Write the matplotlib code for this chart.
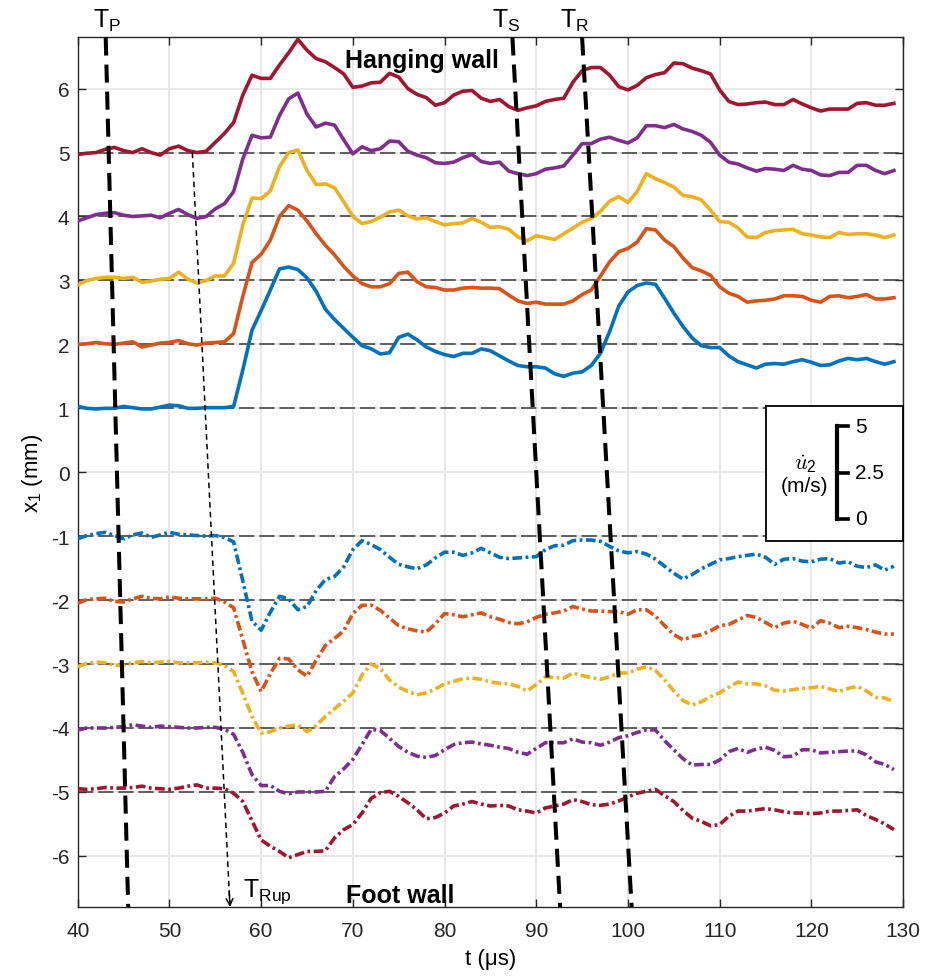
import numpy as np
import matplotlib
matplotlib.use('Agg')
import matplotlib.pyplot as plt
from matplotlib.patches import Rectangle

plt.rcParams['font.family'] = ['Liberation Sans', 'DejaVu Sans']
plt.rcParams['mathtext.default'] = 'regular'
plt.rcParams['axes.unicode_minus'] = False
plt.rcParams['lines.scale_dashes'] = False

# time axis (us)
t = np.arange(40, 130)

# hanging wall records (solid), offset to x1 = 1..5 mm
hw1 = [1.03, 1.00, 0.99, 1.00, 1.00, 1.03, 1.01, 0.99, 0.99, 1.02,
       1.05, 1.04, 1.00, 1.00, 1.01, 1.01, 1.01, 1.03, 1.60, 2.22,
       2.53, 2.85, 3.18, 3.21, 3.17, 3.04, 2.83, 2.55, 2.39, 2.25,
       2.11, 1.98, 1.93, 1.85, 1.87, 2.11, 2.16, 2.07, 1.96, 1.89,
       1.84, 1.81, 1.86, 1.86, 1.93, 1.90, 1.82, 1.74, 1.67, 1.65,
       1.65, 1.63, 1.54, 1.50, 1.55, 1.57, 1.67, 1.86, 2.20, 2.60,
       2.82, 2.92, 2.96, 2.94, 2.72, 2.49, 2.28, 2.10, 1.98, 1.95,
       1.95, 1.82, 1.73, 1.68, 1.63, 1.69, 1.70, 1.69, 1.73, 1.76,
       1.72, 1.67, 1.68, 1.74, 1.78, 1.76, 1.78, 1.73, 1.69, 1.73]
hw2 = [2.00, 2.01, 2.03, 2.01, 2.00, 2.02, 2.04, 1.96, 1.99, 2.02,
       2.03, 2.06, 2.01, 1.99, 2.02, 2.03, 2.04, 2.17, 2.75, 3.28,
       3.41, 3.63, 4.00, 4.17, 4.10, 3.93, 3.73, 3.55, 3.40, 3.22,
       3.07, 2.95, 2.90, 2.90, 2.95, 3.11, 3.13, 2.98, 2.90, 2.89,
       2.85, 2.85, 2.88, 2.89, 2.88, 2.88, 2.87, 2.77, 2.68, 2.64,
       2.66, 2.63, 2.63, 2.63, 2.68, 2.78, 2.85, 3.07, 3.29, 3.45,
       3.50, 3.60, 3.81, 3.79, 3.63, 3.53, 3.35, 3.20, 3.15, 3.08,
       2.90, 2.80, 2.75, 2.66, 2.68, 2.69, 2.71, 2.76, 2.76, 2.75,
       2.69, 2.66, 2.75, 2.76, 2.73, 2.75, 2.78, 2.71, 2.71, 2.73]
hw3 = [2.93, 3.00, 3.03, 3.05, 3.05, 3.03, 3.05, 2.97, 2.99, 3.02,
       3.03, 3.13, 3.02, 2.96, 3.00, 3.07, 3.07, 3.27, 3.87, 4.29,
       4.28, 4.40, 4.78, 5.00, 5.04, 4.72, 4.50, 4.51, 4.45, 4.23,
       4.00, 3.89, 3.92, 3.99, 4.07, 4.10, 4.01, 3.96, 3.98, 3.92,
       3.87, 3.89, 3.90, 3.97, 3.91, 3.83, 3.84, 3.80, 3.68, 3.62,
       3.70, 3.67, 3.64, 3.73, 3.82, 3.91, 3.97, 4.08, 4.24, 4.31,
       4.22, 4.39, 4.67, 4.59, 4.53, 4.46, 4.33, 4.31, 4.26, 4.10,
       3.92, 3.91, 3.82, 3.68, 3.67, 3.75, 3.78, 3.79, 3.80, 3.73,
       3.71, 3.68, 3.67, 3.75, 3.72, 3.73, 3.73, 3.71, 3.67, 3.71]
hw4 = [3.93, 3.98, 4.03, 4.05, 4.06, 4.02, 4.00, 4.01, 4.02, 3.98,
       4.05, 4.11, 4.03, 3.97, 4.00, 4.12, 4.20, 4.39, 4.90, 5.27,
       5.23, 5.24, 5.58, 5.84, 5.93, 5.60, 5.40, 5.46, 5.43, 5.20,
       4.98, 5.09, 5.03, 5.06, 5.18, 5.17, 5.02, 4.96, 4.92, 4.84,
       4.83, 4.85, 4.92, 4.97, 4.86, 4.83, 4.85, 4.71, 4.67, 4.64,
       4.67, 4.74, 4.76, 4.79, 4.96, 5.14, 5.14, 5.21, 5.24, 5.19,
       5.15, 5.23, 5.42, 5.42, 5.39, 5.44, 5.37, 5.33, 5.27, 5.16,
       4.96, 4.85, 4.82, 4.76, 4.71, 4.75, 4.74, 4.72, 4.80, 4.74,
       4.72, 4.65, 4.64, 4.69, 4.69, 4.80, 4.80, 4.72, 4.67, 4.72]
hw5 = [4.97, 4.99, 5.00, 5.05, 5.08, 5.03, 5.00, 5.06, 5.00, 4.96,
       5.06, 5.10, 5.03, 5.00, 5.02, 5.16, 5.30, 5.47, 5.90, 6.21,
       6.16, 6.16, 6.37, 6.56, 6.77, 6.60, 6.47, 6.42, 6.33, 6.23,
       6.02, 6.04, 6.09, 6.10, 6.24, 6.18, 6.00, 5.91, 5.86, 5.74,
       5.78, 5.90, 5.96, 5.97, 5.85, 5.80, 5.83, 5.72, 5.66, 5.70,
       5.73, 5.80, 5.83, 5.85, 6.10, 6.28, 6.33, 6.33, 6.21, 6.03,
       5.98, 6.05, 6.17, 6.22, 6.25, 6.40, 6.39, 6.32, 6.28, 6.23,
       5.98, 5.80, 5.75, 5.76, 5.78, 5.79, 5.75, 5.75, 5.83, 5.76,
       5.70, 5.65, 5.68, 5.68, 5.68, 5.77, 5.78, 5.74, 5.74, 5.77]

# foot wall records (dash-dot), offset to x1 = -1..-5 mm
fw1 = [-1.04, -0.99, -0.96, -0.94, -0.99, -1.04, -0.98, -0.95, -1.02, -0.98,
       -0.94, -0.97, -0.98, -0.99, -1.00, -0.99, -1.02, -1.09, -1.70, -2.33,
       -2.47, -2.19, -1.94, -1.98, -2.15, -2.10, -1.85, -1.68, -1.63, -1.48,
       -1.21, -1.07, -1.13, -1.21, -1.33, -1.44, -1.48, -1.51, -1.45, -1.34,
       -1.25, -1.25, -1.30, -1.26, -1.19, -1.26, -1.33, -1.35, -1.34, -1.33,
       -1.32, -1.21, -1.15, -1.14, -1.07, -1.06, -1.06, -1.08, -1.16, -1.23,
       -1.26, -1.24, -1.28, -1.36, -1.47, -1.58, -1.67, -1.60, -1.51, -1.44,
       -1.37, -1.35, -1.32, -1.30, -1.28, -1.33, -1.44, -1.36, -1.35, -1.39,
       -1.40, -1.36, -1.35, -1.42, -1.40, -1.47, -1.49, -1.45, -1.53, -1.47]
fw2 = [-2.05, -1.99, -1.98, -1.97, -2.02, -2.03, -1.98, -1.94, -1.97, -1.98,
       -1.95, -1.97, -1.98, -1.98, -1.98, -1.97, -2.03, -2.12, -2.62, -3.12,
       -3.43, -3.15, -2.91, -2.92, -3.09, -3.19, -2.94, -2.71, -2.60, -2.48,
       -2.21, -2.08, -2.08, -2.16, -2.28, -2.40, -2.45, -2.48, -2.50, -2.37,
       -2.21, -2.23, -2.26, -2.23, -2.20, -2.26, -2.30, -2.35, -2.37, -2.34,
       -2.27, -2.22, -2.20, -2.17, -2.10, -2.14, -2.17, -2.17, -2.18, -2.18,
       -2.22, -2.15, -2.15, -2.25, -2.40, -2.54, -2.62, -2.57, -2.54, -2.48,
       -2.40, -2.38, -2.31, -2.24, -2.27, -2.35, -2.43, -2.36, -2.33, -2.38,
       -2.44, -2.32, -2.36, -2.43, -2.41, -2.43, -2.46, -2.50, -2.53, -2.53]
fw3 = [-3.04, -2.99, -2.97, -2.98, -3.02, -3.02, -2.98, -2.96, -2.98, -2.97,
       -2.96, -2.98, -2.98, -2.98, -2.97, -2.98, -3.02, -3.12, -3.46, -3.82,
       -4.08, -4.06, -4.00, -3.97, -3.95, -4.06, -3.96, -3.82, -3.70, -3.58,
       -3.45, -3.17, -3.00, -3.07, -3.25, -3.36, -3.43, -3.48, -3.45, -3.39,
       -3.31, -3.27, -3.23, -3.22, -3.24, -3.28, -3.30, -3.31, -3.35, -3.42,
       -3.32, -3.20, -3.21, -3.22, -3.14, -3.18, -3.21, -3.24, -3.20, -3.14,
       -3.14, -3.08, -3.04, -3.10, -3.25, -3.42, -3.57, -3.64, -3.59, -3.51,
       -3.45, -3.36, -3.28, -3.31, -3.31, -3.34, -3.41, -3.42, -3.40, -3.38,
       -3.37, -3.35, -3.39, -3.43, -3.38, -3.35, -3.42, -3.52, -3.53, -3.59]
fw4 = [-4.03, -4.00, -4.00, -4.00, -3.99, -3.98, -3.95, -3.97, -3.99, -3.97,
       -3.98, -3.99, -4.00, -4.00, -3.99, -3.99, -4.02, -4.10, -4.38, -4.73,
       -4.90, -4.90, -4.99, -5.03, -5.00, -5.00, -5.00, -4.99, -4.76, -4.64,
       -4.49, -4.26, -4.02, -4.04, -4.16, -4.29, -4.38, -4.44, -4.46, -4.43,
       -4.34, -4.26, -4.23, -4.22, -4.25, -4.27, -4.30, -4.32, -4.38, -4.41,
       -4.32, -4.23, -4.23, -4.23, -4.17, -4.22, -4.23, -4.27, -4.22, -4.15,
       -4.12, -4.07, -4.03, -4.03, -4.20, -4.34, -4.48, -4.58, -4.57, -4.57,
       -4.50, -4.37, -4.32, -4.38, -4.33, -4.30, -4.35, -4.45, -4.44, -4.34,
       -4.34, -4.39, -4.38, -4.37, -4.36, -4.36, -4.42, -4.53, -4.57, -4.65]
fw5 = [-4.95, -4.96, -4.95, -4.93, -4.94, -4.94, -4.93, -4.91, -4.94, -4.95,
       -4.96, -4.94, -4.91, -4.89, -4.94, -4.94, -4.95, -5.02, -5.15, -5.45,
       -5.75, -5.85, -5.93, -6.03, -5.98, -5.93, -5.93, -5.92, -5.72, -5.59,
       -5.51, -5.33, -5.10, -5.01, -4.99, -5.07, -5.17, -5.28, -5.42, -5.40,
       -5.33, -5.22, -5.19, -5.15, -5.19, -5.22, -5.21, -5.22, -5.28, -5.30,
       -5.33, -5.25, -5.22, -5.19, -5.12, -5.15, -5.20, -5.21, -5.19, -5.14,
       -5.08, -5.02, -4.99, -4.96, -5.06, -5.15, -5.29, -5.41, -5.46, -5.53,
       -5.51, -5.38, -5.30, -5.30, -5.28, -5.26, -5.28, -5.31, -5.33, -5.33,
       -5.34, -5.33, -5.30, -5.30, -5.29, -5.28, -5.37, -5.43, -5.50, -5.59]

offsets = [1, 2, 3, 4, 5, -1, -2, -3, -4, -5]
colors = ['#0072BD', '#D95319', '#EDB120', '#7E2F8E', '#A2142F']

# wave arrival lines: (t at top, t at bottom)
tp_t = [43.05, 45.5]
ts_t = [87.4, 92.6]
tr_t = [95.0, 100.4]
trup_t = [52.5, 56.6]
trup_y = [5.0, -6.8]

# velocity scale bar (m/s), 5 m/s spans 1.45 mm on the plot
vel_ticks = [0, 2.5, 5]
vel_scale = 1.45 / 5
vel_x = 122.77
vel_y0 = -0.73

ylim = (-6.8, 6.8)

fig = plt.figure(figsize=(9.31, 9.79), dpi=100)
ax = fig.add_axes([0.0835, 0.0725, 0.8865, 0.8882])

for y in offsets:
    ax.plot([40, 130], [y, y], color='#3a3a3a', lw=1.1, dashes=(11, 3.5), zorder=2)

for s, c in zip([hw1, hw2, hw3, hw4, hw5], colors):
    ax.plot(t, s, color=c, lw=2.6, zorder=3, solid_joinstyle='round')
for s, c in zip([fw1, fw2, fw3, fw4, fw5], colors):
    ax.plot(t, s, color=c, lw=2.6, dashes=(7, 2.5, 2, 2.5), zorder=3,
            dash_capstyle='butt')

for tt in [tp_t, ts_t, tr_t]:
    ax.plot(tt, [ylim[1], ylim[0]], color='k', lw=2.9, dashes=(13, 6.5), zorder=4)

# rupture front
ax.plot(trup_t, trup_y, color='k', lw=1.1, dashes=(4, 3), zorder=4)
ax.annotate('', xy=(trup_t[1], trup_y[1]), xytext=(trup_t[1] - 0.08, trup_y[1] + 0.25),
            arrowprops=dict(arrowstyle='->', lw=1.1, color='k', mutation_scale=12,
                            shrinkA=0, shrinkB=0), annotation_clip=False, zorder=4)

xt = ax.get_xaxis_transform()
ax.text(41.7, 1.012, '$T_P$', transform=xt, fontsize=18, va='baseline')
ax.text(85.2, 1.012, '$T_S$', transform=xt, fontsize=18, va='baseline')
ax.text(92.6, 1.012, '$T_R$', transform=xt, fontsize=18, va='baseline')
ax.text(58.05, -6.63, '$T_{Rup}$', fontsize=18, va='baseline', zorder=5)
ax.text(69.15, 6.34, 'Hanging wall', fontsize=18, fontweight='bold', va='baseline', zorder=5)
ax.text(69.2, -6.72, 'Foot wall', fontsize=18, fontweight='bold', va='baseline', zorder=5)

# scale box
ax.add_patch(Rectangle((115.0, -1.073), 15.0, 2.109, facecolor='white', edgecolor='k',
                       lw=1.3, zorder=6, clip_on=False))
ax.plot([vel_x, vel_x], [vel_y0, vel_y0 + vel_ticks[-1] * vel_scale], color='k', lw=3,
        solid_capstyle='projecting', zorder=7)
for v in vel_ticks:
    yv = vel_y0 + v * vel_scale
    ax.plot([vel_x, vel_x + 1.2], [yv, yv], color='k', lw=2.6, zorder=7)
    ax.text(vel_x + 2.0, yv, f'{v:g}', fontsize=15, va='center', ha='left', zorder=7)
ax.text(119.3, 0.14, r'$\dot{\mathit{u}}_2$', math_fontfamily='cm', fontsize=16,
        ha='center', va='center', zorder=7)
ax.text(119.3, -0.2, '(m/s)', fontsize=15, ha='center', va='center', zorder=7)

ax.set_xlim(40, 130)
ax.set_ylim(*ylim)
ax.set_xticks(np.arange(40, 131, 10))
ax.set_yticks(np.arange(-6, 7, 1))
ax.grid(True, color='#e6e6e6', lw=1.3)
ax.set_axisbelow(True)
ax.tick_params(direction='in', length=6, width=1, top=True, right=True,
               labelsize=15, color='#262626', labelcolor='#262626')
ax.tick_params(axis='x', pad=10)
ax.tick_params(axis='y', pad=6)
for sp in ax.spines.values():
    sp.set_color('#262626')
    sp.set_linewidth(1)

ax.set_xlabel('t (μs)', fontsize=16, labelpad=6)
ax.set_ylabel('$x_1$ (mm)', fontsize=16, labelpad=4)

fig.savefig('out.png', dpi=100)
